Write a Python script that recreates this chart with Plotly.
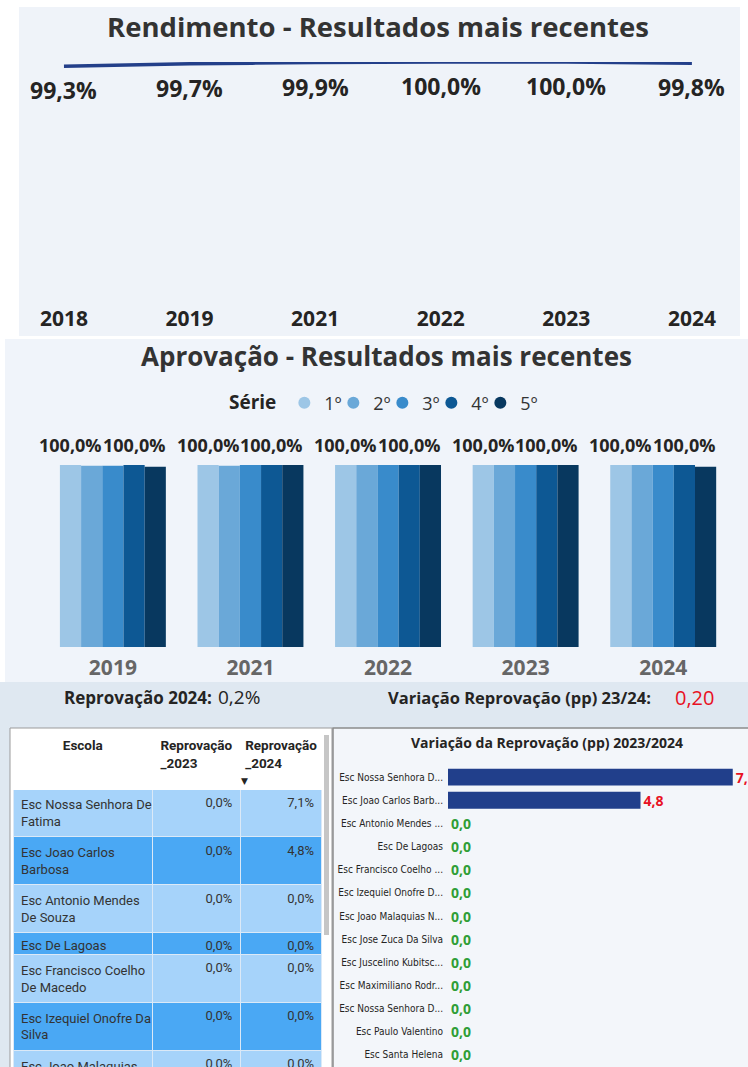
import plotly.graph_objects as go

W, H = 748, 1067

# ---------------- data ----------------
rend_years = ["2018", "2019", "2021", "2022", "2023", "2024"]
rend_values = [99.3, 99.7, 99.9, 100.0, 100.0, 99.8]

aprov_years = ["2019", "2021", "2022", "2023", "2024"]
series_names = ["1º", "2º", "3º", "4º", "5º"]
aprov_1 = [100.0, 100.0, 100.0, 100.0, 100.0]
aprov_2 = [99.6, 99.6, 100.0, 100.0, 100.0]
aprov_3 = [99.6, 100.0, 100.0, 100.0, 100.0]
aprov_4 = [100.0, 100.0, 100.0, 100.0, 100.0]
aprov_5 = [99.0, 100.0, 100.0, 100.0, 99.1]
series_colors = ["#9dc6e6", "#6aa8d8", "#398bcb", "#0d5894", "#08385f"]
labelled_series = ["1º", "4º"]

reprov_2024_total = 0.2
variacao_total = 0.20

escolas_tabela = [
    "Esc Nossa Senhora De<br>Fatima",
    "Esc Joao Carlos<br>Barbosa",
    "Esc Antonio Mendes<br>De Souza",
    "Esc De Lagoas",
    "Esc Francisco Coelho<br>De Macedo",
    "Esc Izequiel Onofre Da<br>Silva",
    "Esc Joao Malaquias<br>Nunes",
    "Esc Jose Zuca Da Silva",
    "Esc Juscelino<br>Kubitschek",
    "Esc Maximiliano<br>Rodr...",
    "Esc Nossa Senhora D...",
    "Esc Paulo Valentino",
    "Esc Santa Helena",
]
reprov_2023 = [0.0, 0.0, 0.0, 0.0, 0.0, 0.0, 0.0, 0.0, 0.0, 0.0, 0.0, 0.0, 0.0]
reprov_2024 = [7.1, 4.8, 0.0, 0.0, 0.0, 0.0, 0.0, 0.0, 0.0, 0.0, 0.0, 0.0, 0.0]

bar_labels = [
    "Esc Nossa Senhora D...",
    "Esc Joao Carlos Barb...",
    "Esc Antonio Mendes ...",
    "Esc De Lagoas",
    "Esc Francisco Coelho ...",
    "Esc Izequiel Onofre D...",
    "Esc Joao Malaquias N...",
    "Esc Jose Zuca Da Silva",
    "Esc Juscelino Kubitsc...",
    "Esc Maximiliano Rodr...",
    "Esc Nossa Senhora D...",
    "Esc Paulo Valentino",
    "Esc Santa Helena",
]
variacao_pp = [7.1, 4.8, 0.0, 0.0, 0.0, 0.0, 0.0, 0.0, 0.0, 0.0, 0.0, 0.0, 0.0]

# ---------------- helpers ----------------
def X(px):
    return px / W


def Y(py):
    return 1 - py / H


def br(v, nd=1, suffix=""):
    return f"{v:.{nd}f}".replace(".", ",") + suffix


FONT = "Open Sans, Noto Sans, sans-serif"
TFONT = "Roboto, Noto Sans, sans-serif"
NARROW = "Liberation Sans Narrow, DejaVu Sans Condensed, Roboto, sans-serif"
DARK = "#252423"
RED = "#e81123"
GREEN = "#2f9e36"

fig = go.Figure()

# ---- Rendimento line ----
rend_idx = list(range(len(rend_years)))
fig.add_trace(go.Scatter(
    x=rend_idx, y=rend_values, mode="lines",
    line=dict(color="#233f8a", width=3.5, shape="spline", smoothing=0.6),
    cliponaxis=False, showlegend=False,
    xaxis="x", yaxis="y",
))

annotations = []
for i, v in zip(rend_idx, rend_values):
    annotations.append(dict(
        x=i, y=v, xref="x", yref="y", xanchor="center", yanchor="middle",
        yshift=-24, showarrow=False, text=br(v, 1, "%"),
        font=dict(family=FONT, size=23, color=DARK, weight="bold"),
    ))

# ---- Aprovação grouped bars ----
aprov_series = [aprov_1, aprov_2, aprov_3, aprov_4, aprov_5]
bargap = 0.23
group_w = 1 - bargap
bar_w = group_w / len(series_names)
for k, (name, vals, col) in enumerate(zip(series_names, aprov_series, series_colors)):
    fig.add_trace(go.Bar(
        x=aprov_years, y=vals, name=name, marker=dict(color=col, line=dict(width=0)),
        showlegend=False, xaxis="x2", yaxis="y2", offsetgroup=str(k),
        hovertemplate=name + " %{x}: %{y:.1f}%<extra></extra>",
    ))
    fig.add_trace(go.Scatter(
        x=[None], y=[None], mode="markers", name=name,
        marker=dict(symbol="circle", size=12, color=col),
        xaxis="x2", yaxis="y2", showlegend=True,
    ))
    if name in labelled_series:
        off = -group_w / 2 + bar_w * (k + 0.5)
        for i, v in enumerate(vals):
            annotations.append(dict(
                x=i + off, y=v, xref="x2", yref="y2", xanchor="center",
                yanchor="bottom", yshift=6, showarrow=False, text=br(v, 1, "%"),
                font=dict(family=FONT, size=18, color=DARK, weight="bold"),
            ))
# invisible spacer so the last legend label is not clipped
fig.add_trace(go.Scatter(
    x=[None], y=[None], mode="markers", name="", hoverinfo="skip",
    marker=dict(size=1, color="rgba(0,0,0,0)", line=dict(width=0)),
    xaxis="x2", yaxis="y2", showlegend=True,
))

# ---- Variação horizontal bars ----
idx = list(range(len(bar_labels)))
fig.add_trace(go.Bar(
    x=variacao_pp, y=idx, orientation="h", width=0.73,
    marker=dict(color="#213f8b", line=dict(width=0)),
    texttemplate="%{x:.1f}", textposition="outside", constraintext="none",
    textfont=dict(family=FONT, size=14, weight="bold",
                  color=[RED if v > 0 else GREEN for v in variacao_pp]),
    cliponaxis=False, showlegend=False, xaxis="x3", yaxis="y3",
    hovertemplate="%{x:.1f}<extra></extra>",
))

# ---- Table ----
row_fill = ["#a6d3fa" if i % 2 == 0 else "#4aa8f4" for i in range(len(escolas_tabela))]
fig.add_trace(go.Table(
    domain=dict(x=[X(13), X(322)], y=[0, Y(729)]),
    columnwidth=[140, 88, 82],
    header=dict(
        values=["<b>Escola</b>", "<b>Reprovação<br>_2023</b>", "<b>Reprovação<br>_2024</b>"],
        fill_color="white", line=dict(color="white", width=1),
        align=["center", "center", "center"], height=60,
        font=dict(family=TFONT, size=13.5, color=DARK),
    ),
    cells=dict(
        values=[escolas_tabela,
                [br(v, 1, "%") for v in reprov_2023],
                [br(v, 1, "%") for v in reprov_2024]],
        fill_color=[row_fill, row_fill, row_fill],
        line=dict(color="#dbe9f7", width=1),
        align=["left", "right", "right"], height=22,
        font=dict(family=TFONT, size=13, color="#333333"),
    ),
))


def txt(px, py, text, size, color=DARK, bold=False, xanchor="center", family=FONT):
    return dict(x=X(px), y=Y(py), xref="paper", yref="paper", xanchor=xanchor,
                yanchor="middle", showarrow=False, text=text,
                font=dict(family=family, size=size, color=color,
                          weight="bold" if bold else "normal"))


annotations += [
    txt(378, 27, "Rendimento - Resultados mais recentes", 27.5, "#333333", True),
    txt(387, 356, "Aprovação - Resultados mais recentes", 26, "#333333", True),
    txt(62, 697, "Reprovação 2024:", 17, bold=True, xanchor="left"),
    txt(216, 697, br(reprov_2024_total, 1, "%"), 19, xanchor="left"),
    txt(386, 697, "Variação Reprovação (pp) 23/24:", 16.5, bold=True, xanchor="left"),
    txt(673, 697, br(variacao_total, 2), 20, RED, xanchor="left"),
    txt(547, 742, "Variação da Reprovação (pp) 2023/2024", 14, bold=True),
    txt(245, 781, "▼", 9, family="DejaVu Sans"),
]

shapes = [
    dict(type="rect", xref="paper", yref="paper", x0=X(19), x1=X(740), y0=Y(336), y1=Y(7),
         fillcolor="#eff3f9", line=dict(width=0), layer="below"),
    dict(type="rect", xref="paper", yref="paper", x0=X(5), x1=1.01, y0=Y(682), y1=Y(339),
         fillcolor="#f0f4fa", line=dict(width=0), layer="below"),
    dict(type="rect", xref="paper", yref="paper", x0=-0.01, x1=1.01, y0=-0.01, y1=Y(682),
         fillcolor="#dfe8f1", line=dict(width=0), layer="below"),
    dict(type="rect", xref="paper", yref="paper", x0=X(10), x1=X(332), y0=-0.01, y1=Y(728),
         fillcolor="white", line=dict(color="#9b9b9b", width=1), layer="below"),
    dict(type="rect", xref="paper", yref="paper", x0=X(333), x1=1.01, y0=-0.01, y1=Y(728),
         fillcolor="#f3f6fa", line=dict(color="#8c8c8c", width=1.5), layer="below"),
    dict(type="rect", xref="paper", yref="paper", x0=X(324), x1=X(329), y0=Y(935), y1=Y(735),
         fillcolor="#c6c6c6", line=dict(width=0), layer="above"),
]

fig.update_layout(
    width=W, height=H, margin=dict(l=0, r=0, t=0, b=0),
    paper_bgcolor="white", plot_bgcolor="rgba(0,0,0,0)",
    separators=",.", barmode="group", bargap=bargap, bargroupgap=0,
    font=dict(family=FONT, color=DARK),
    annotations=annotations, shapes=shapes,
    showlegend=True,
    legend=dict(
        orientation="h", x=X(403), xanchor="center", y=Y(403), yanchor="middle",
        bgcolor="rgba(0,0,0,0)", font=dict(family=FONT, size=18, color="#333333"),
        title=dict(text="<b>Série</b>", font=dict(family=FONT, size=19, color=DARK)),
        itemsizing="trace", entrywidth=4, entrywidthmode="pixels",
    ),
    xaxis=dict(domain=[X(20), X(740)], range=[-0.350, 5.383],
               tickmode="array", tickvals=rend_idx, ticktext=rend_years,
               showgrid=False, zeroline=False, showline=False, ticks="",
               tickfont=dict(family=FONT, size=21, color=DARK, weight="bold"),
               anchor="y", ticklabelstandoff=2),
    yaxis=dict(domain=[Y(302), Y(62)], range=[60, 100], visible=False),
    xaxis2=dict(domain=[X(37), X(732)], type="category", showgrid=False, zeroline=False,
                showline=False, ticks="", anchor="y2", ticklabelstandoff=6,
                tickfont=dict(family=FONT, size=21, color="#666666", weight="bold")),
    yaxis2=dict(domain=[Y(647), Y(465)], range=[0, 100], visible=False, anchor="x2"),
    xaxis3=dict(domain=[X(448), 1.0], range=[0, 7.48], visible=False, anchor="y3"),
    yaxis3=dict(domain=[Y(1066.5), Y(765.5)], range=[len(bar_labels) - 0.5, -0.5],
                tickmode="array", tickvals=idx, ticktext=bar_labels, anchor="x3",
                showgrid=False, zeroline=False, showline=False, ticks="",
                ticklabelstandoff=4,
                tickfont=dict(family=NARROW, size=10, color=DARK)),
)

fig.write_html("out.html", config={"displayModeBar": False},
               post_script="document.body.style.margin='0';")
